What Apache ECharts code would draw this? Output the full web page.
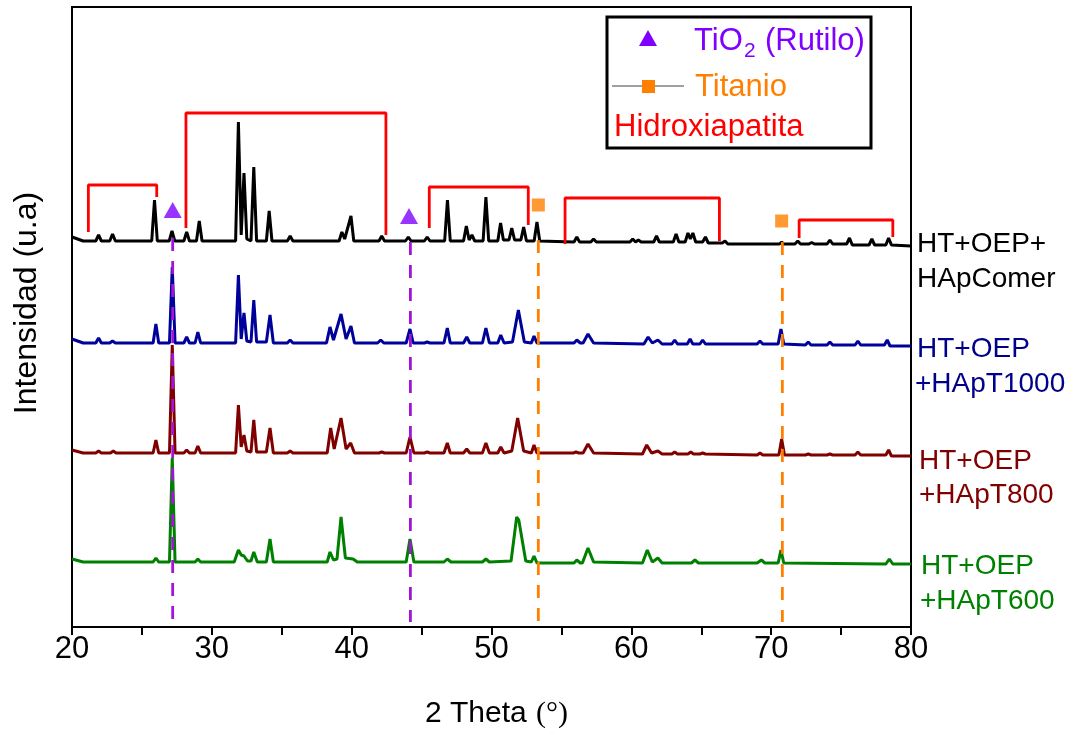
<!DOCTYPE html>
<html>
<head>
<meta charset="utf-8">
<script src="https://cdn.jsdelivr.net/npm/echarts@6/dist/echarts.min.js"></script>
<style>html,body{margin:0;padding:0;background:#fff}#c{width:1076px;height:731px}</style>
</head>
<body>
<div id="c"></div>
<script>
// ---- data: [2 theta, intensity (a.u., stacked offset)] ----
const comerData = [[20,390],[20.8,386],[21.7,386],[21.9,392],[22.1,386],[22.7,386],[22.9,393],[23.1,386],[25.7,386],[25.9,427],[26.1,386],[26.95,386],[27.15,396],[27.35,386],[28.0,386],[28.2,395],[28.4,386],[28.9,386],[29.1,406],[29.3,386],[31.7,386],[31.9,505],[32.1,392],[32.3,454],[32.5,388],[32.8,386],[33.0,460],[33.2,386],[33.9,386],[34.1,416],[34.3,386],[35.4,386],[35.6,391],[35.8,386],[39.1,386],[39.3,395],[39.5,388],[39.95,411],[40.15,386],[41.95,386],[42.15,391],[42.35,386],[43.85,386],[44.05,390],[44.25,386],[45.2,386],[45.4,390],[45.6,386],[46.65,386],[46.85,427],[47.05,386],[48.0,386],[48.2,401],[48.4,387],[48.6,392],[48.8,386],[49.4,386],[49.6,430],[49.8,386],[50.45,386],[50.65,404],[50.85,387],[51.25,387],[51.45,399],[51.65,387],[52.1,387],[52.3,400],[52.5,386],[53.05,386],[53.25,405],[53.45,386],[55.9,385],[56.1,390],[56.3,385],[57.1,385],[57.3,388],[57.5,385],[59.9,385],[60.1,388],[60.3,385],[60.5,387],[60.7,385],[61.6,385],[61.8,391],[62.0,385],[63.0,385],[63.2,393],[63.4,385],[63.85,385],[64.05,394],[64.22,388],[64.4,394],[64.6,385],[65.1,385],[65.3,390],[65.5,384],[66.5,384],[66.7,386],[66.9,383],[70.6,383],[70.75,385],[70.9,383],[71.7,383],[71.9,386],[72.1,383],[72.7,383],[72.9,384.5],[73.1,383],[74.0,383],[74.2,387],[74.4,383],[75.4,383],[75.6,389],[75.8,382],[77.0,382],[77.2,388],[77.4,382],[78.2,382],[78.4,389],[78.6,382],[80,381]];
const t1000Data = [[20,288],[20.8,284],[21.7,284],[21.9,289],[22.1,284],[22.7,284],[22.9,286],[23.1,284],[25.8,284],[26.0,303],[26.2,284],[26.97,284],[27.17,360],[27.37,284],[28.0,284],[28.2,290],[28.4,284],[28.8,284],[29.0,295],[29.2,284],[31.7,284],[31.9,352],[32.1,288],[32.3,314],[32.5,286],[32.8,285],[33.0,327],[33.2,285],[33.9,285],[34.16,312],[34.4,284],[35.4,284],[35.6,287],[35.8,284],[38.2,284],[38.45,300],[38.7,287],[39.24,313],[39.6,288],[39.95,301],[40.2,284],[41.85,284],[42.08,287],[42.3,284],[43.9,284],[44.17,298],[44.4,284],[45.2,284],[45.4,285],[45.6,284],[46.6,284],[46.84,299],[47.05,284],[48.0,284],[48.23,290],[48.45,284],[49.35,284],[49.6,299],[49.85,284],[50.45,284],[50.66,292],[50.9,284],[51.5,285],[51.92,317],[52.35,285],[52.85,284],[53.04,291],[53.25,284],[55.9,284],[56.1,287],[56.35,284],[56.55,284],[56.9,293],[57.3,284],[60.9,283],[61.2,290],[61.5,284],[61.9,287],[62.2,283],[62.9,283],[63.1,287],[63.3,283],[64.0,283],[64.2,288],[64.4,283],[64.9,283],[65.1,287],[65.3,283],[69.0,283],[69.2,286],[69.4,283],[70.5,283],[70.7,298],[70.9,283],[72.45,282],[72.65,285],[72.85,282],[74.0,282],[74.2,285],[74.4,282],[76.0,282],[76.2,286],[76.4,282],[78.1,282],[78.3,287],[78.5,281],[80,281]];
const t800Data = [[20,177],[20.8,174],[21.7,174],[21.9,176],[22.1,174],[22.75,174],[22.95,176],[23.15,174],[25.8,174],[26.0,187],[26.2,174],[26.97,174],[27.17,282],[27.37,174],[28.0,174],[28.2,177],[28.4,174],[28.8,174],[29.0,181],[29.2,174],[31.7,174],[31.9,222],[32.1,180],[32.3,192],[32.5,176],[32.8,175],[33.0,207],[33.2,175],[33.9,175],[34.16,199],[34.4,174],[35.4,174],[35.6,176],[35.8,174],[38.25,174],[38.5,199],[38.75,178],[39.24,209],[39.6,178],[39.93,184],[40.2,174],[41.95,174],[42.15,175],[42.35,174],[43.9,174],[44.17,190],[44.45,174],[45.2,174],[45.4,175],[45.6,174],[46.6,174],[46.84,184],[47.05,174],[48.0,174],[48.23,178],[48.45,174],[49.35,174],[49.6,184],[49.85,174],[50.45,174],[50.66,180],[50.9,174],[51.45,176],[51.87,209],[52.3,176],[52.85,174],[53.04,182],[53.25,174],[55.85,174],[56.04,175],[56.25,174],[56.55,174],[56.9,183],[57.3,174],[60.8,173],[61.1,182],[61.45,174],[61.9,176],[62.2,173],[62.9,173],[63.1,175],[63.3,173],[64.05,173],[64.25,175],[64.45,173],[64.9,173],[65.1,174],[65.3,173],[69.0,172],[69.2,174],[69.4,172],[70.55,172],[70.75,188],[70.95,172],[72.45,172],[72.65,173],[72.85,172],[74.0,172],[74.2,173],[74.4,172],[76.0,172],[76.2,175],[76.4,172],[78.2,172],[78.4,177],[78.6,171],[80,171]];
const t600Data = [[20,68],[20.8,65],[25.8,65],[26.0,69],[26.2,65],[26.97,65],[27.17,169],[27.37,65],[28.8,65],[29.0,68],[29.2,65],[31.6,65],[31.9,77],[32.1,72],[32.3,71],[32.55,66],[32.8,66],[33.0,75],[33.25,65],[33.9,65],[34.16,88],[34.4,65],[38.25,65],[38.45,75],[38.7,67],[38.95,68],[39.24,110],[39.55,69],[40.1,68],[40.4,65],[43.9,65],[44.17,88],[44.45,65],[46.6,65],[46.84,68],[47.1,65],[49.35,65],[49.6,68],[49.85,65],[51.4,66],[51.8,110],[51.95,107],[52.05,108],[52.45,66],[52.85,65],[53.04,71],[53.25,64],[55.9,64],[56.1,67],[56.35,64],[56.5,64],[56.9,79],[57.3,65],[60.8,64],[61.14,77],[61.5,65],[61.9,69],[62.2,64],[64.3,64],[64.55,67],[64.8,64],[69.0,64],[69.3,67],[69.55,64],[70.5,64],[70.7,77],[70.9,64],[78.2,63],[78.45,68],[78.7,63],[80,63]];

// phase markers
const rutileMarks = [[27.2,417],[44.1,411]];
const titanioMarks = [[53.35,422],[70.75,406]];
const rutileLines = [[[27.2,389],[27.2,5]],[[44.2,385],[44.2,5]]];
const titanioLines = [[[53.35,387],[53.35,5]],[[70.8,385],[70.8,5]]];
const hapBrackets = [
  [[21.17,395],[21.17,442],[26.06,442],[26.06,430]],
  [[28.15,399],[28.15,514],[42.45,514],[42.45,392]],
  [[45.55,399],[45.55,440],[52.63,440],[52.63,402]],
  [[55.26,383],[55.26,429],[66.3,429],[66.3,386]],
  [[72.0,389],[72.0,407],[78.7,407],[78.7,390]]
];
const xTicks = [20,30,40,50,60,70,80];

const FONT = '"Liberation Sans", Arial, sans-serif';
const traces = [
  {name:'HT+OEP+HApComer', data: comerData, color:'#000000'},
  {name:'HT+OEP+HApT1000', data: t1000Data, color:'#00009a'},
  {name:'HT+OEP+HApT800', data: t800Data, color:'#800000'},
  {name:'HT+OEP+HApT600', data: t600Data, color:'#008000'}
];
const series = [];
traces.forEach(t => series.push({
  type:'line', name:t.name, data:t.data, showSymbol:false, symbol:'none',
  lineStyle:{color:t.color, width:3}, z:2, silent:true, animation:false
}));
hapBrackets.forEach(b => series.push({
  type:'line', data:b, showSymbol:false, symbol:'none',
  lineStyle:{color:'#ff0000', width:2.8}, z:3, animation:false
}));
rutileLines.forEach(l => series.push({
  type:'line', data:l, showSymbol:false, symbol:'none',
  lineStyle:{color:'#a314d6', width:2.8, type:[13,10]}, z:4, animation:false
}));
titanioLines.forEach(l => series.push({
  type:'line', data:l, showSymbol:false, symbol:'none',
  lineStyle:{color:'#ff8000', width:2.8, type:[13,10]}, z:4, animation:false
}));
series.push({type:'scatter', data:rutileMarks, symbol:'triangle', symbolSize:[18,16], itemStyle:{color:'#8000ff'}, z:5, animation:false});
series.push({type:'scatter', data:titanioMarks, symbol:'rect', symbolSize:13, itemStyle:{color:'#ff8000'}, z:5, animation:false});

const txt = (x,y,text,color,size,family) => ({
  type:'text', x, y, z:10,
  style:{text, fill:color, font:`${size}px ${family||FONT}`, align:'left', verticalAlign:'middle'}
});

const chart = echarts.init(document.getElementById('c'), null, {renderer:'canvas'});
chart.setOption({
  animation:false,
  backgroundColor:'#fff',
  grid:{left:72, right:165, top:7, bottom:104, show:true, borderColor:'#000', borderWidth:2, backgroundColor:'transparent'},
  xAxis:{
    type:'value', min:20, max:80, interval:5,
    axisLine:{show:true, lineStyle:{color:'#000', width:2}},
    axisTick:{show:true, inside:false, length:8, lineStyle:{color:'#000', width:2}},
    axisLabel:{color:'#000', fontSize:31, fontFamily:FONT, margin:7,
      formatter: v => xTicks.indexOf(v) >= 0 ? String(v) : ''},
    splitLine:{show:false}
  },
  yAxis:{
    type:'value', min:0, max:620,
    axisLine:{show:true, lineStyle:{color:'#000', width:2}},
    axisTick:{show:false}, axisLabel:{show:false}, splitLine:{show:false}
  },
  series,
  graphic:[
    // legend box
    {type:'rect', shape:{x:607, y:17, width:264, height:131}, style:{fill:'#fff', stroke:'#000', lineWidth:3}, z:9},
    {type:'polygon', shape:{points:[[648,30],[657,46],[639,46]]}, style:{fill:'#8000ff'}, z:10},
    txt(694, 41, 'TiO', '#8000ff', 31),
    txt(744, 51, '2', '#8000ff', 21),
    txt(765, 41, '(Rutilo)', '#8000ff', 31),
    {type:'line', shape:{x1:612, y1:86, x2:684, y2:86}, style:{stroke:'#808080', lineWidth:1.5}, z:10},
    {type:'rect', shape:{x:642, y:80, width:13, height:13}, style:{fill:'#ff8000'}, z:11},
    txt(695, 87, 'Titanio', '#ff8000', 31),
    txt(614, 127, 'Hidroxiapatita', '#ff0000', 31),
    // trace labels
    txt(917, 244, 'HT+OEP+', '#000000', 28),
    txt(917, 279, 'HApComer', '#000000', 28),
    txt(917, 349, 'HT+OEP', '#00008b', 28),
    txt(915, 384, '+HApT1000', '#00008b', 28),
    txt(919, 461, 'HT+OEP', '#800000', 28),
    txt(919, 495, '+HApT800', '#800000', 28),
    txt(921, 566, 'HT+OEP', '#008000', 28),
    txt(920, 601, '+HApT600', '#008000', 28),
    // axis titles
    txt(425, 714, '2 Theta', '#000', 30),
    {type:'text', x:536, y:714, z:10, style:{text:'(°)', fill:'#000', font:'30px "Liberation Serif", serif', align:'left', verticalAlign:'middle'}},
    {type:'text', x:27, y:303, rotation:Math.PI/2, z:10,
      style:{text:'Intensidad (u.a)', fill:'#000', font:`32px ${FONT}`, align:'center', verticalAlign:'middle'}}
  ]
});
</script>
</body>
</html>
